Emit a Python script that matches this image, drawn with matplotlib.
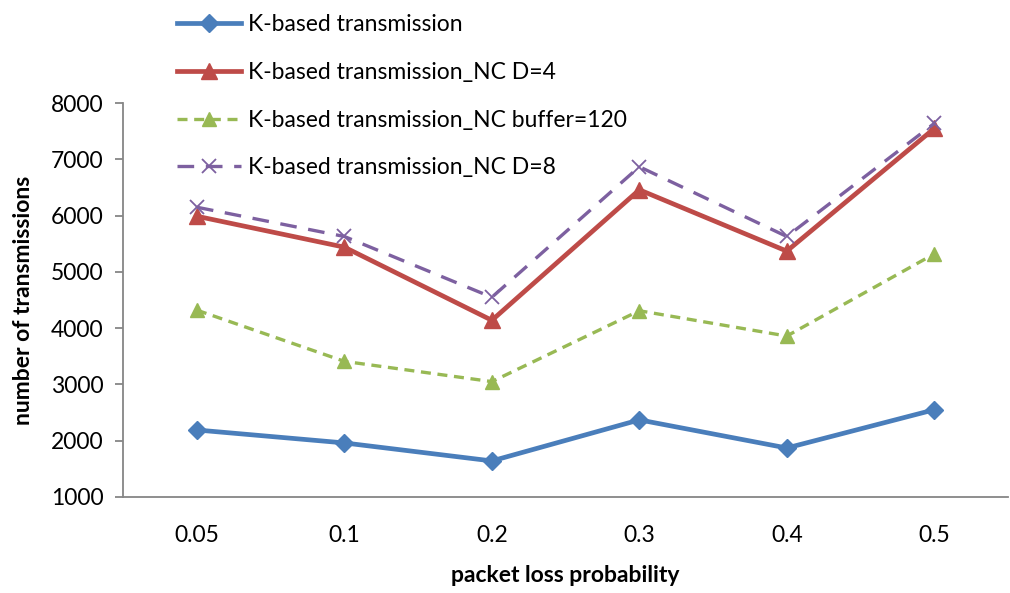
import matplotlib
matplotlib.use('Agg')

import matplotlib.pyplot as plt
import numpy as np

plt.rcParams['font.family'] = ['Lato', 'DejaVu Sans']

# packet loss probabilities (categorical x axis)
loss_labels = ['0.05', '0.1', '0.2', '0.3', '0.4', '0.5']

k_based = [2190, 1960, 1640, 2370, 1870, 2550]
nc_d4 = [5990, 5440, 4140, 6460, 5370, 7550]
nc_buffer120 = [4320, 3410, 3050, 4310, 3860, 5320]
nc_d8 = [6150, 5630, 4550, 6870, 5630, 7640]

series_names = [
    'K-based transmission',
    'K-based transmission_NC D=4',
    'K-based transmission_NC buffer=120',
    'K-based transmission_NC D=8',
]

fs = 16.5

fig = plt.figure(figsize=(10.10, 5.93), dpi=100)
ax = fig.add_axes([0.122, 0.162, 0.876, 0.664])

x = np.arange(len(loss_labels))

ax.plot(x, k_based, color='#4a7ebb', lw=3.4, marker='D', ms=9.5,
        label=series_names[0], zorder=3)
ax.plot(x, nc_d4, color='#be4b48', lw=3.4, marker='^', ms=12,
        label=series_names[1], zorder=4)
ax.plot(x, nc_buffer120, color='#98b954', lw=2.4, ls=(0, (3, 2)),
        marker='^', ms=10, label=series_names[2], zorder=3)
ax.plot(x, nc_d8, color='#7d60a0', lw=2.4, ls=(0, (5, 3.5)),
        marker='x', ms=10, mew=1.3, label=series_names[3], zorder=5)

ax.set_xlim(-0.5, len(loss_labels) - 0.5)
ax.set_ylim(1000, 8000)
ax.set_yticks(range(1000, 8001, 1000))
ax.set_xticks(x)
ax.set_xticklabels(loss_labels)

for side in ['top', 'right']:
    ax.spines[side].set_visible(False)
for side in ['left', 'bottom']:
    ax.spines[side].set_color('#868686')
    ax.spines[side].set_linewidth(1.3)

ax.tick_params(axis='y', length=6, width=1.3, color='#868686',
               labelsize=fs, pad=8)
ax.tick_params(axis='x', length=0, labelsize=fs, pad=20)

ax.set_xlabel('packet loss probability', fontsize=fs, fontweight='bold',
              labelpad=14)
ax.set_ylabel('number of transmissions', fontsize=fs, fontweight='bold',
              labelpad=12)

leg = fig.legend(loc='upper left', bbox_to_anchor=(0.166, 0.992),
                 frameon=False, fontsize=fs, handlelength=2.8,
                 labelspacing=1.17, handletextpad=0.3, borderaxespad=0)

fig.savefig('out.png', dpi=100)
